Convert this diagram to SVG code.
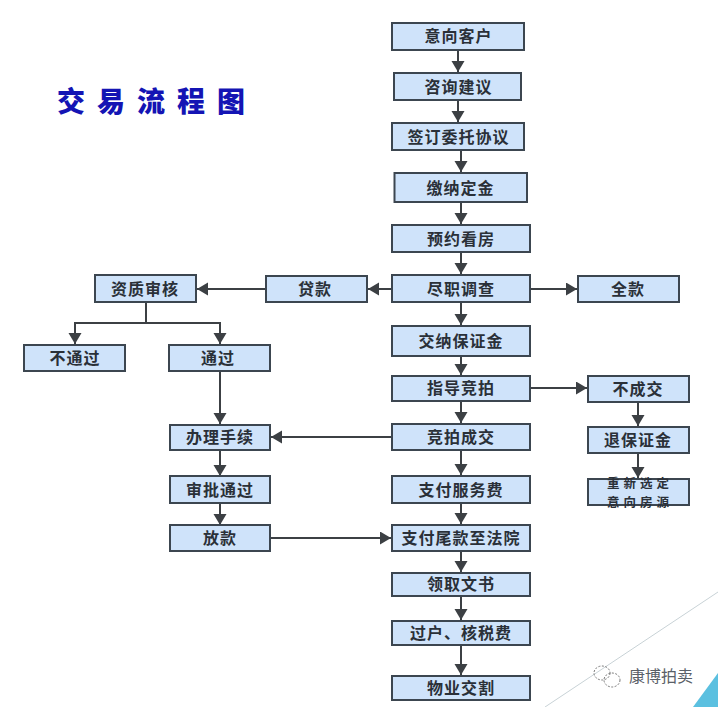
<svg xmlns="http://www.w3.org/2000/svg" width="718" height="707" viewBox="0 0 718 707">
<style>
.n{fill:#cfe3fa;stroke:#3c4650;stroke-width:2}
.t{font-family:"Noto Sans CJK SC","Noto Sans",sans-serif;font-size:16px;font-weight:700;fill:#2a3038;text-anchor:middle;letter-spacing:1px}
.s{font-size:12.5px;letter-spacing:4px}
.c{fill:none;stroke:#3c4044;stroke-width:2}
</style>
<defs><marker id="a" markerUnits="userSpaceOnUse" markerWidth="11" markerHeight="14" refX="11" refY="6.5" orient="auto"><path d="M0 0L11 6.5L0 13z" fill="#3c4044"/></marker></defs>
<rect width="718" height="707" fill="#fff"/>
<path d="M545 707L718 592" fill="none" stroke="#c8d2d6" stroke-width="1"/>
<path d="M693 707L718 673V707z" fill="#5bc0e0"/>
<text x="57" y="112" font-family="'Noto Sans CJK SC',sans-serif" font-size="28" font-weight="900" fill="#1414b4" letter-spacing="12">交易流程图</text>
<g id="connectors" class="c">
<path marker-end="url(#a)" d="M458 51V72"/>
<path marker-end="url(#a)" d="M458 101V122"/>
<path marker-end="url(#a)" d="M461 150V172"/>
<path marker-end="url(#a)" d="M461 202V224"/>
<path marker-end="url(#a)" d="M461 252V274"/>
<path marker-end="url(#a)" d="M461 302V325"/>
<path marker-end="url(#a)" d="M461 356V375"/>
<path marker-end="url(#a)" d="M461 401V423"/>
<path marker-end="url(#a)" d="M461 450V475"/>
<path marker-end="url(#a)" d="M461 503V524"/>
<path marker-end="url(#a)" d="M461 551V572"/>
<path marker-end="url(#a)" d="M461 596V620"/>
<path marker-end="url(#a)" d="M461 645V675"/>
<path marker-end="url(#a)" d="M391 289H368"/>
<path marker-end="url(#a)" d="M265 289H197"/>
<path marker-end="url(#a)" d="M530 289H577"/>
<path marker-end="url(#a)" d="M530 388H587"/>
<path marker-end="url(#a)" d="M391 437H271"/>
<path marker-end="url(#a)" d="M271 538H391"/>
<path marker-end="url(#a)" d="M638 402V426"/>
<path marker-end="url(#a)" d="M638 453V478"/>
<path d="M146 302V323H75V344" marker-end="url(#a)"/>
<path d="M146 323H220V344" marker-end="url(#a)"/>
<path marker-end="url(#a)" d="M220 372V424"/>
<path marker-end="url(#a)" d="M220 450V476"/>
<path marker-end="url(#a)" d="M220 503V525"/>
</g>
<g id="n1"><rect class="n" x="392" y="23" width="132" height="27"/><text class="t" x="458.500" y="42">意向客户</text></g>
<g id="n2"><rect class="n" x="394" y="73" width="127" height="27"/><text class="t" x="458.500" y="93">咨询建议</text></g>
<g id="n3"><rect class="n" x="392" y="123" width="132" height="27"/><text class="t" x="458.500" y="143">签订委托协议</text></g>
<g id="n4"><rect class="n" x="394.500" y="173" width="132.500" height="29"/><text class="t" x="460.500" y="194">缴纳定金</text></g>
<g id="n5"><rect class="n" x="392" y="225" width="138" height="27"/><text class="t" x="461" y="245">预约看房</text></g>
<g id="n6"><rect class="n" x="392" y="275" width="138" height="27"/><text class="t" x="461" y="295">尽职调查</text></g>
<g id="n7"><rect class="n" x="392" y="326" width="138" height="30"/><text class="t" x="461" y="347">交纳保证金</text></g>
<g id="n8"><rect class="n" x="392" y="376" width="138" height="25"/><text class="t" x="461" y="394">指导竞拍</text></g>
<g id="n9"><rect class="n" x="392" y="424" width="138" height="26"/><text class="t" x="461" y="443">竞拍成交</text></g>
<g id="n10"><rect class="n" x="392" y="476" width="138" height="27"/><text class="t" x="461" y="496">支付服务费</text></g>
<g id="n11"><rect class="n" x="392" y="525" width="138" height="26"/><text class="t" x="461" y="544">支付尾款至法院</text></g>
<g id="n12"><rect class="n" x="392" y="573" width="138" height="23"/><text class="t" x="461" y="590">领取文书</text></g>
<g id="n13"><rect class="n" x="392" y="621" width="138" height="24"/><text class="t" x="461" y="639">过户、核税费</text></g>
<g id="n14"><rect class="n" x="392" y="676" width="138" height="24"/><text class="t" x="461" y="694">物业交割</text></g>
<g id="n15"><rect class="n" x="266" y="276" width="101" height="26"/><text class="t" x="315" y="295">贷款</text></g>
<g id="n16"><rect class="n" x="578" y="276" width="101" height="26"/><text class="t" x="628" y="295">全款</text></g>
<g id="n17"><rect class="n" x="95" y="275" width="101" height="27"/><text class="t" x="145" y="295">资质审核</text></g>
<g id="n18"><rect class="n" x="24" y="345" width="101" height="26"/><text class="t" x="75" y="364">不通过</text></g>
<g id="n19"><rect class="n" x="169" y="345" width="101" height="26"/><text class="t" x="218" y="364">通过</text></g>
<g id="n20"><rect class="n" x="170" y="425" width="100" height="25"/><text class="t" x="220" y="443">办理手续</text></g>
<g id="n21"><rect class="n" x="170" y="476" width="100" height="27"/><text class="t" x="220" y="496">审批通过</text></g>
<g id="n22"><rect class="n" x="170" y="525" width="100" height="26"/><text class="t" x="220" y="544">放款</text></g>
<g id="n23"><rect class="n" x="588" y="376" width="101" height="26"/><text class="t" x="638" y="395">不成交</text></g>
<g id="n24"><rect class="n" x="588" y="427" width="101" height="26"/><text class="t" x="638" y="446">退保证金</text></g>
<g id="n25"><rect class="n" x="588" y="479" width="101" height="26"/><text class="t s" x="640" y="488">重新选定</text><text class="t s" x="640" y="506.500">意向房源</text></g>
<text x="661" y="682" font-family="'Noto Sans CJK SC',sans-serif" font-size="16" fill="#5a6068" text-anchor="middle">康博拍卖</text>
<g fill="none" stroke="#777" stroke-width="1" stroke-dasharray="2 1.5"><ellipse cx="602" cy="673" rx="8" ry="7"/><ellipse cx="612" cy="680" rx="8" ry="7"/></g>
</svg>
